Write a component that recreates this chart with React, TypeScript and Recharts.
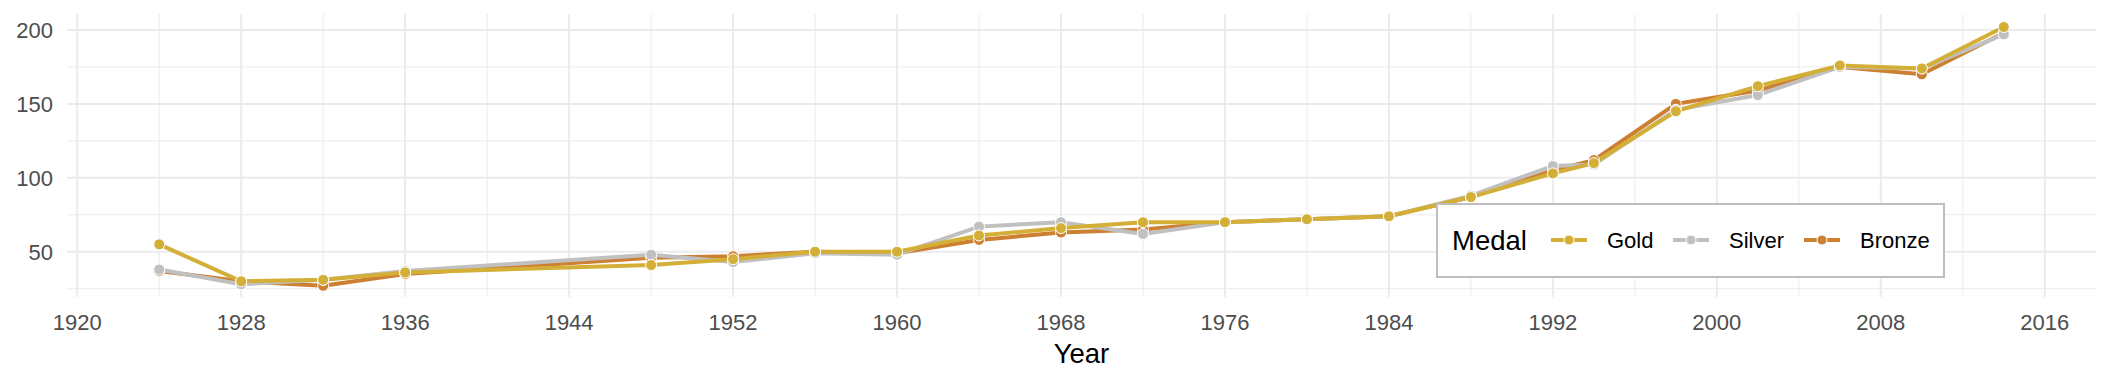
import { LineChart, Line, XAxis, YAxis, CartesianGrid, Label } from "recharts";

const years = [1924, 1928, 1932, 1936, 1948, 1952, 1956, 1960, 1964, 1968, 1972, 1976, 1980, 1984, 1988, 1992, 1994, 1998, 2002, 2006, 2010, 2014];
const gold = [55, 30, 31, 36, 41, 45, 50, 50, 61, 66, 70, 70, 72, 74, 87, 103, 110, 145, 162, 176, 174, 202];
const silver = [38, 28, 31, 37, 48, 43, 49, 48, 67, 70, 62, 70, 72, 74, 88, 108, 109, 146, 156, 175, 174, 197];
const bronze = [37, 30, 27, 35, 46, 47, 50, 49, 58, 63, 65, 70, 72, 74, 87, 105, 112, 150, 159, 175, 170, 198];

const xTicks = [1920, 1928, 1936, 1944, 1952, 1960, 1968, 1976, 1984, 1992, 2000, 2008, 2016];
const xMinor = [1924, 1932, 1940, 1948, 1956, 1964, 1972, 1980, 1988, 1996, 2004, 2012];
const yTicks = [50, 100, 150, 200];
const yMinor = [25, 75, 125, 175];

const SERIES = [
  { key: "Gold", color: "#D4AF37" },
  { key: "Silver", color: "#C0C0C0" },
  { key: "Bronze", color: "#CD7F32" },
];

const data = years.map((year, i) => ({
  year,
  Gold: gold[i],
  Silver: silver[i],
  Bronze: bronze[i],
}));

const FONT = "'Liberation Sans', Arial, sans-serif";
const GRID = "#EBEBEB";

// ggplot draws every line first, then the points; bronze at the back, gold on top
const drawOrder = [...SERIES].reverse();

function LegendBox() {
  const items = [
    { ...SERIES[0], keyX: 113, textX: 169 },
    { ...SERIES[1], keyX: 235, textX: 291 },
    { ...SERIES[2], keyX: 366, textX: 422 },
  ];
  return (
    <div
      style={{
        position: "absolute",
        left: 1436,
        top: 203,
        width: 509,
        height: 75,
        boxSizing: "border-box",
        border: "2px solid #BEBEBE",
        background: "#fff",
        fontFamily: FONT,
      }}
    >
      <span style={{ position: "absolute", left: 14, top: 20, fontSize: 27.5, lineHeight: "32px", color: "#000" }}>
        Medal
      </span>
      {items.map((it) => (
        <div key={it.key}>
          <svg style={{ position: "absolute", left: it.keyX, top: 28 }} width={36} height={14}>
            <line x1={0} y1={7} x2={36} y2={7} stroke={it.color} strokeWidth={4} />
            <circle cx={18} cy={7} r={5} fill={it.color} stroke="#fff" strokeWidth={1} />
          </svg>
          <span style={{ position: "absolute", left: it.textX, top: 23, fontSize: 22, lineHeight: "26px", color: "#000" }}>
            {it.key}
          </span>
        </div>
      ))}
    </div>
  );
}

export default function App() {
  return (
    <div style={{ position: "absolute", left: 0, top: 0, width: 2112, height: 384, background: "#fff" }}>
      <LineChart
        width={2112}
        height={384}
        data={data}
        margin={{ top: 14, right: 16, bottom: 0, left: 0 }}
        style={{ fontFamily: FONT }}
      >
        <CartesianGrid
          stroke={GRID}
          strokeWidth={1}
          verticalValues={xMinor}
          horizontalValues={yMinor}
        />
        <CartesianGrid
          stroke={GRID}
          strokeWidth={2}
          verticalValues={xTicks}
          horizontalValues={yTicks}
        />
        <XAxis
          dataKey="year"
          type="number"
          domain={[1919.5, 2018.5]}
          allowDataOverflow
          ticks={xTicks}
          interval={0}
          height={87}
          axisLine={false}
          tickLine={false}
          tickSize={0}
          tickMargin={17}
          tick={{ fill: "#4D4D4D", fontSize: 22, fontFamily: FONT }}
        >
          <Label
            value="Year"
            position="insideBottom"
            offset={21}
            style={{ fill: "#000", fontSize: 27.5, fontFamily: FONT }}
          />
        </XAxis>
        <YAxis
          type="number"
          domain={[19.4, 210.8]}
          allowDataOverflow
          ticks={yTicks}
          interval={0}
          width={67}
          axisLine={false}
          tickLine={false}
          tickSize={0}
          tickMargin={14}
          tick={{ fill: "#4D4D4D", fontSize: 22, fontFamily: FONT }}
        />
        {drawOrder.map((s) => (
          <Line
            key={"line-" + s.key}
            dataKey={s.key}
            type="linear"
            stroke={s.color}
            strokeWidth={4}
            dot={false}
            activeDot={false}
            isAnimationActive={false}
          />
        ))}
        {drawOrder.map((s) => (
          <Line
            key={"pts-" + s.key}
            dataKey={s.key}
            type="linear"
            stroke="none"
            dot={{ r: 5.5, fill: s.color, stroke: "#fff", strokeWidth: 1 }}
            activeDot={false}
            legendType="none"
            isAnimationActive={false}
          />
        ))}
      </LineChart>
      <LegendBox />
    </div>
  );
}
